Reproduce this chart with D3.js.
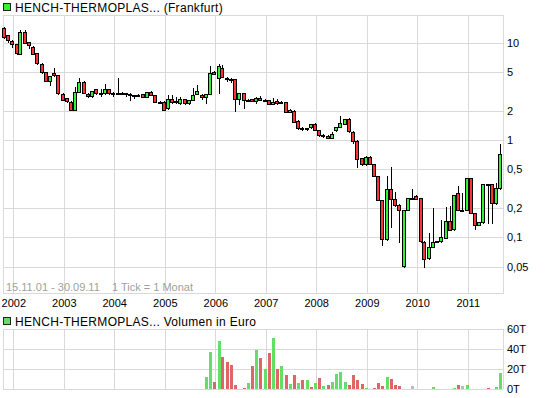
<!DOCTYPE html>
<html>
<head>
<meta charset="utf-8">
<script src="https://cdn.jsdelivr.net/npm/d3@7"></script>
<style>
  body { margin: 0; background: #fff; }
  svg { display: block; }
  text { font-family: "Liberation Sans", Arial, sans-serif; }
</style>
</head>
<body>
<div id="chart"></div>
<script>
// monthly candles, 15.11.01 - 30.09.11
const firstMonth = new Date(2001, 10, 1);
const lastMonth = new Date(2011, 8, 1);

const yearTicks = [2002, 2003, 2004, 2005, 2006, 2007, 2008, 2009, 2010, 2011];
const priceTicks = [10, 5, 2, 1, 0.5, 0.2, 0.1, 0.05];
const volumeTicks = [0, 20, 40, 60];

// prices (EUR)
const open = [14.0, 12.0, 10.5, 9.7, 7.8, 13.0, 10.1, 9.1, 7.8, 6.1, 5.0, 4.0, 4.85, 4.66, 3.0, 2.68, 2.48, 2.04, 3.14, 3.97,
  3.0, 2.84, 3.32, 3.02, 3.02, 3.32, 3.05, 3.06, 3.05, 3.04, 3.0, 2.84, 2.92, 2.97, 2.79, 3.14, 2.9, 2.48, 2.48, 2.12,
  2.62, 2.45, 2.38, 2.62, 2.38, 2.58, 2.97, 2.9, 2.75, 2.97, 5.04, 4.31, 5.46, 4.35, 4.25, 4.21, 2.62, 3.02, 2.6, 2.64,
  2.52, 2.72, 2.58, 2.58, 2.34, 2.52, 2.44, 2.44, 1.93, 2.0, 1.57, 1.34, 1.32, 1.35, 1.46, 1.27, 1.13, 1.1, 1.06, 1.27,
  1.37, 1.46, 1.63, 1.22, 0.985, 0.65, 0.568, 0.675, 0.564, 0.428, 0.242, 0.096, 0.312, 0.246, 0.215, 0.051, 0.191, 0.252, 0.268, 0.252,
  0.0904, 0.061, 0.080, 0.0904, 0.0904, 0.100, 0.1485, 0.121, 0.288, 0.191, 0.192, 0.405, 0.179, 0.134, 0.143, 0.354, 0.352, 0.224, 0.32];
const high = [14.5, 12.1, 10.6, 9.8, 13.5, 13.5, 10.1, 9.2, 7.8, 6.2, 5.0, 4.6, 5.45, 4.7, 3.05, 2.7, 2.5, 3.54, 4.3, 4.0,
  3.05, 3.2, 3.35, 3.35, 3.74, 3.35, 3.1, 4.3, 3.08, 3.06, 3.02, 2.92, 2.95, 3.0, 3.15, 3.2, 2.92, 2.5, 2.5, 2.9,
  2.9, 2.75, 2.79, 2.65, 2.6, 3.4, 3.68, 2.95, 3.0, 5.76, 5.1, 6.0, 5.9, 4.4, 4.3, 4.25, 3.02, 3.05, 2.65, 2.66,
  2.74, 2.84, 2.62, 2.6, 2.72, 2.62, 2.54, 2.46, 2.1, 2.04, 1.6, 1.36, 1.34, 1.47, 1.48, 1.28, 1.15, 1.12, 1.2, 1.36,
  1.77, 1.66, 1.68, 1.23, 0.99, 0.66, 0.68, 0.68, 0.57, 0.43, 0.245, 0.428, 0.532, 0.295, 0.22, 0.191, 0.252, 0.312, 0.27, 0.255,
  0.091, 0.11, 0.199, 0.092, 0.151, 0.207, 0.21, 0.275, 0.337, 0.288, 0.405, 0.405, 0.18, 0.144, 0.354, 0.356, 0.354, 0.36, 0.91];
const low = [11.2, 10.2, 9.1, 7.7, 7.7, 10.0, 8.8, 7.7, 6.1, 4.9, 4.0, 3.7, 4.6, 3.0, 2.6, 2.45, 2.03, 2.03, 3.1, 3.05,
  2.8, 2.8, 3.0, 2.85, 3.0, 3.0, 2.84, 3.0, 3.0, 2.85, 2.58, 2.7, 2.88, 2.78, 2.78, 2.9, 2.48, 2.45, 2.03, 2.1,
  2.4, 2.4, 2.36, 2.36, 2.35, 2.55, 2.95, 2.62, 2.38, 2.95, 4.75, 3.06, 4.4, 4.05, 3.95, 2.0, 2.34, 2.12, 2.55, 2.5,
  2.38, 2.56, 2.55, 2.34, 2.33, 2.37, 2.4, 1.92, 1.92, 1.53, 1.31, 1.27, 1.28, 1.34, 1.26, 1.1, 1.08, 1.05, 1.04, 1.25,
  1.36, 1.45, 1.2, 0.94, 0.525, 0.56, 0.56, 0.565, 0.425, 0.24, 0.084, 0.095, 0.129, 0.21, 0.09, 0.05, 0.19, 0.248, 0.25, 0.09,
  0.05, 0.06, 0.079, 0.089, 0.09, 0.099, 0.12, 0.12, 0.19, 0.188, 0.19, 0.178, 0.121, 0.133, 0.142, 0.14, 0.14, 0.222, 0.315];
const close = [11.4, 10.7, 9.7, 7.8, 13.0, 10.1, 9.5, 7.8, 6.1, 5.0, 4.05, 4.55, 4.66, 3.02, 2.62, 2.48, 2.04, 3.14, 3.97, 3.06,
  2.84, 3.19, 3.02, 3.03, 3.32, 3.02, 3.06, 3.05, 3.04, 3.0, 2.92, 2.9, 2.92, 2.79, 3.14, 2.9, 2.48, 2.47, 2.04, 2.62,
  2.42, 2.5, 2.62, 2.38, 2.58, 2.9, 3.21, 2.76, 2.97, 4.92, 4.77, 5.76, 4.41, 4.31, 4.2, 2.62, 3.02, 2.58, 2.58, 2.52,
  2.72, 2.58, 2.56, 2.34, 2.48, 2.38, 2.43, 1.93, 2.04, 1.54, 1.32, 1.32, 1.33, 1.46, 1.27, 1.13, 1.1, 1.06, 1.16, 1.35,
  1.49, 1.63, 1.22, 0.985, 0.65, 0.568, 0.675, 0.568, 0.428, 0.242, 0.096, 0.312, 0.246, 0.215, 0.191, 0.191, 0.252, 0.25, 0.252, 0.0904,
  0.061, 0.080, 0.0904, 0.091, 0.100, 0.1485, 0.121, 0.273, 0.191, 0.192, 0.405, 0.179, 0.134, 0.143, 0.354, 0.352, 0.224, 0.32, 0.714];

// volume in thousand EUR and bar colour (g = up, r = down, n = unchanged)
const volume = [0, 0, 0, 0, 0, 0, 0, 0, 0, 0, 0, 0, 0, 0, 0, 0, 0, 0, 0, 0,
  0, 0, 0, 0, 0, 0, 0, 0, 0, 0, 0, 0, 0, 0, 0, 0, 0, 0, 0, 0,
  0, 0, 0, 0, 0, 0, 0, 0, 12, 37, 7, 48, 32, 27, 24, 4, 0, 1, 6, 23,
  39, 31, 20, 36, 51, 20, 23, 14, 5, 14, 6, 9, 9, 2, 6, 11, 3, 4, 7, 15,
  17, 7, 4, 14, 9, 5, 1, 0, 1, 6, 3, 12, 10, 4, 3, 0, 0, 3, 0, 0,
  0, 0, 2, 0, 0, 0, 0, 1, 4, 3, 4, 0, 0, 0, 0, 1.5, 0, 2, 16];
const volumeColor = ["", "", "", "", "", "", "", "", "", "", "", "", "", "", "", "", "", "", "", "",
  "", "", "", "", "", "", "", "", "", "", "", "", "", "", "", "", "", "", "", "",
  "", "", "", "", "", "", "", "", "g", "g", "r", "g", "r", "r", "r", "r", "", "r", "g", "r",
  "g", "r", "g", "r", "g", "r", "g", "r", "g", "r", "g", "r", "g", "r", "g", "r", "g", "r", "g", "g",
  "g", "g", "r", "r", "r", "r", "g", "", "r", "r", "r", "g", "r", "r", "r", "", "", "n", "", "",
  "", "", "g", "", "", "", "", "g", "r", "n", "g", "", "", "", "", "r", "", "g", "g"];

const months = d3.timeMonth.range(firstMonth, d3.timeMonth.offset(lastMonth, 1));
const data = months.map((date, i) => ({
  date, o: open[i], h: high[i], l: low[i], c: close[i], v: volume[i], vc: volumeColor[i]
}));

const width = 545, height = 398;
const plot = {left: 3, right: 503, top: 15, bottom: 293};
const vplot = {top: 329, bottom: 389};

const green = '#33f233', red = '#ff3333';
const volColors = {g: '#66dd66', r: '#de6666', n: '#bbbbbb'};
const gridColor = '#d9d9d9';

const x = d3.scaleTime()
  .domain([firstMonth, lastMonth])
  .range([4.87, 501.3]);
const y = d3.scaleLog()
  .domain([0.05, 10])
  .range([266.7, 42.7]);
const yv = d3.scaleLinear()
  .domain([0, 60])
  .range([vplot.bottom, vplot.top]);

const yearDates = yearTicks.map(yr => new Date(yr, 0, 1));
const de = d3.formatLocale({decimal: ',', thousands: '.', grouping: [3], currency: ['', ' €']});
const priceFmt = de.format('~g');

const svg = d3.select('#chart').append('svg')
  .attr('width', width)
  .attr('height', height);

// ---------- price panel ----------
const grid = svg.append('g').attr('shape-rendering', 'crispEdges');

grid.append('g')
  .attr('transform', `translate(0, ${plot.bottom})`)
  .call(d3.axisBottom(x).tickValues(yearDates).tickSize(-(plot.bottom - plot.top)).tickFormat(''))
  .call(g => g.select('.domain').remove())
  .call(g => g.selectAll('line').attr('stroke', gridColor));

grid.append('g')
  .attr('transform', `translate(${plot.left}, 0)`)
  .call(d3.axisRight(y).tickValues(priceTicks).tickSize(plot.right - plot.left).tickFormat(''))
  .call(g => g.select('.domain').remove())
  .call(g => g.selectAll('line').attr('stroke', gridColor));

grid.append('rect')
  .attr('x', plot.left + 0.5)
  .attr('y', plot.top + 0.5)
  .attr('width', plot.right - plot.left)
  .attr('height', plot.bottom - plot.top)
  .attr('fill', 'none')
  .attr('stroke', gridColor);

// price labels on the right
svg.append('g')
  .attr('transform', `translate(${plot.right}, 0)`)
  .call(d3.axisRight(y).tickValues(priceTicks).tickSize(0).tickPadding(4).tickFormat(priceFmt))
  .call(g => g.select('.domain').remove())
  .call(g => g.selectAll('text').attr('font-size', '11px').attr('font-family', null).attr('fill', '#000'));

// year labels
svg.append('g')
  .attr('transform', `translate(0, ${plot.bottom + 5})`)
  .call(d3.axisBottom(x).tickValues(yearDates).tickSize(0).tickPadding(1).tickFormat(d3.timeFormat('%Y')))
  .call(g => g.select('.domain').remove())
  .call(g => g.selectAll('text').attr('font-size', '11px').attr('font-family', null).attr('fill', '#000'));

svg.append('text')
  .attr('x', 6)
  .attr('y', 287)
  .attr('dy', '0.35em')
  .attr('font-size', '11px')
  .attr('fill', '#a0a0a0')
  .attr('xml:space', 'preserve')
  .text('15.11.01 - 30.09.11    1 Tick = 1 Monat');

// candles
const candles = svg.append('g').attr('shape-rendering', 'crispEdges');
const cg = candles.selectAll('g')
  .data(data)
  .join('g');

cg.append('line')
  .attr('x1', d => Math.round(x(d.date)) - 0.5)
  .attr('x2', d => Math.round(x(d.date)) - 0.5)
  .attr('y1', d => Math.round(y(d.h)))
  .attr('y2', d => Math.round(y(d.l)) + 1)
  .attr('stroke', '#000');

cg.append('rect')
  .attr('x', d => Math.round(x(d.date)) - 2.5)
  .attr('y', d => Math.round(Math.min(y(d.o), y(d.c))) + 0.5)
  .attr('width', 3)
  .attr('height', d => Math.max(Math.round(Math.abs(y(d.o) - y(d.c))), 1))
  .attr('fill', d => d.c >= d.o ? green : red)
  .attr('stroke', '#000');

// legend
svg.append('rect')
  .attr('x', 3.5).attr('y', 3.5)
  .attr('width', 7).attr('height', 7)
  .attr('fill', green)
  .attr('stroke', '#222')
  .attr('shape-rendering', 'crispEdges');
svg.append('text')
  .attr('x', 15)
  .attr('y', 7.5)
  .attr('dy', '0.35em')
  .attr('font-size', '12px')
  .attr('letter-spacing', '0.3px')
  .text('HENCH-THERMOPLAS... (Frankfurt)');

// ---------- volume panel ----------
const vgrid = svg.append('g').attr('shape-rendering', 'crispEdges');

vgrid.append('g')
  .attr('transform', `translate(0, ${vplot.bottom})`)
  .call(d3.axisBottom(x).tickValues(yearDates).tickSize(-(vplot.bottom - vplot.top)).tickFormat(''))
  .call(g => g.select('.domain').remove())
  .call(g => g.selectAll('line').attr('stroke', gridColor));

vgrid.append('g')
  .attr('transform', `translate(${plot.left}, 0)`)
  .call(d3.axisRight(yv).tickValues(volumeTicks).tickSize(plot.right - plot.left).tickFormat(''))
  .call(g => g.select('.domain').remove())
  .call(g => g.selectAll('line').attr('stroke', gridColor));

vgrid.append('line')
  .attr('x1', plot.left + 0.5).attr('x2', plot.left + 0.5)
  .attr('y1', vplot.top).attr('y2', vplot.bottom)
  .attr('stroke', gridColor);
vgrid.append('line')
  .attr('x1', plot.right + 0.5).attr('x2', plot.right + 0.5)
  .attr('y1', vplot.top).attr('y2', vplot.bottom)
  .attr('stroke', gridColor);

svg.append('g')
  .attr('transform', `translate(${plot.right}, 0)`)
  .call(d3.axisRight(yv).tickValues(volumeTicks).tickSize(0).tickPadding(4).tickFormat(d => d + 'T'))
  .call(g => g.select('.domain').remove())
  .call(g => g.selectAll('text').attr('font-size', '11px').attr('font-family', null).attr('fill', '#000'));

svg.append('g')
  .attr('shape-rendering', 'crispEdges')
  .selectAll('rect')
  .data(data.filter(d => d.v > 0))
  .join('rect')
    .attr('x', d => Math.round(x(d.date)) - 2)
    .attr('width', 3)
    .attr('y', d => Math.round(yv(d.v)))
    .attr('height', d => vplot.bottom - Math.round(yv(d.v)))
    .attr('fill', d => volColors[d.vc]);

svg.append('rect')
  .attr('x', 3.5).attr('y', 317.5)
  .attr('width', 7).attr('height', 7)
  .attr('fill', '#66dd66')
  .attr('stroke', '#222')
  .attr('shape-rendering', 'crispEdges');
svg.append('text')
  .attr('x', 15)
  .attr('y', 321.5)
  .attr('dy', '0.35em')
  .attr('font-size', '12px')
  .attr('letter-spacing', '0.3px')
  .text('HENCH-THERMOPLAS... Volumen in Euro');
</script>
</body>
</html>
